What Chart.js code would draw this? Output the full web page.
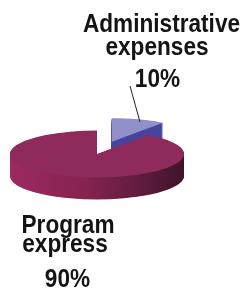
<!DOCTYPE html>
<html>
<head>
<meta charset="utf-8">
<script src="https://cdn.jsdelivr.net/npm/chart.js@4/dist/chart.umd.min.js"></script>
<style>
html,body{margin:0;padding:0;background:#fff;}
#wrap{position:relative;width:242px;height:290px;}
</style>
</head>
<body>
<div id="wrap"><canvas id="c" width="242" height="290"></canvas></div>
<script>
const categories = ['Administrative expenses', 'Program express'];
const labelLines = [['Administrative', 'expenses'], ['Program', 'express']];
const values = [10, 90];
const topColors = ['#9190c8', '#8e2a5c'];

const TILT = 0.27;      // vertical squash of the pie
const DEPTH = 22;       // extrusion depth in px
const EXPLODE = [48, 0];

function sideFill(ctx, i, cx, r) {
  if (i === 0) return '#4747a0';
  const g = ctx.createLinearGradient(cx - r, 0, cx + r, 0);
  g.addColorStop(0, '#9c2a63');
  g.addColorStop(0.45, '#85224f');
  g.addColorStop(0.8, '#5a1a3a');
  g.addColorStop(1, '#3e1428');
  return g;
}

const pie3d = {
  id: 'pie3d',
  beforeDatasetsDraw(chart) {
    const ctx = chart.ctx;
    const meta = chart.getDatasetMeta(0);
    meta.data.forEach((arc, i) => {
      const cx = arc.x, cy = arc.y, r = arc.outerRadius;
      const mid = (arc.startAngle + arc.endAngle) / 2;
      const dx = Math.cos(mid) * EXPLODE[i], dy = Math.sin(mid) * EXPLODE[i];
      const orig = arc.options;
      const paint = (d, fill) => {
        ctx.save();
        ctx.translate(0, d);
        ctx.translate(cx, cy);
        ctx.scale(1, TILT);
        ctx.translate(-cx, -cy);
        ctx.translate(dx, dy);
        arc.options = Object.assign({}, orig, {backgroundColor: fill, borderWidth: 0, offset: 0});
        arc.draw(ctx);
        arc.options = orig;
        ctx.restore();
      };
      const sf = sideFill(ctx, i, cx, r);
      for (let d = DEPTH; d > 0; d -= 0.5) paint(d, sf);
      paint(0, topColors[i]);
    });
    return false;
  },
  afterDraw(chart) {
    const ctx = chart.ctx;
    ctx.save();
    ctx.fillStyle = '#141414';
    ctx.font = 'bold 26px "Liberation Sans", Arial, sans-serif';
    ctx.textAlign = 'center';
    ctx.textBaseline = 'alphabetic';
    const SX = 0.87;
    const place = [
      [[161.5, 32], [157, 55], [157.5, 87]],
      [[68, 233], [65, 252], [67.5, 287]]
    ];
    labelLines.forEach((lines, i) => {
      const all = lines.concat([values[i] + '%']);
      all.forEach((t, j) => {
        const [x, y] = place[i][j];
        ctx.save();
        ctx.translate(x, y);
        ctx.scale(SX, 1);
        ctx.fillText(t, 0, 0);
        ctx.restore();
      });
    });
    // leader line
    ctx.lineWidth = 1;
    ctx.strokeStyle = '#222';
    ctx.beginPath();
    ctx.moveTo(130, 86);
    ctx.lineTo(140, 122);
    ctx.stroke();
    ctx.restore();
  }
};

new Chart(document.getElementById('c'), {
  type: 'pie',
  data: {
    labels: categories,
    datasets: [{
      data: values,
      backgroundColor: topColors,
      borderWidth: 0
    }]
  },
  options: {
    responsive: false,
    animation: false,
    radius: 87,
    layout: {padding: {left: 0, right: 48, top: 18, bottom: 0}},
    plugins: {legend: {display: false}, tooltip: {enabled: false}}
  },
  plugins: [pie3d]
});
</script>
</body>
</html>
